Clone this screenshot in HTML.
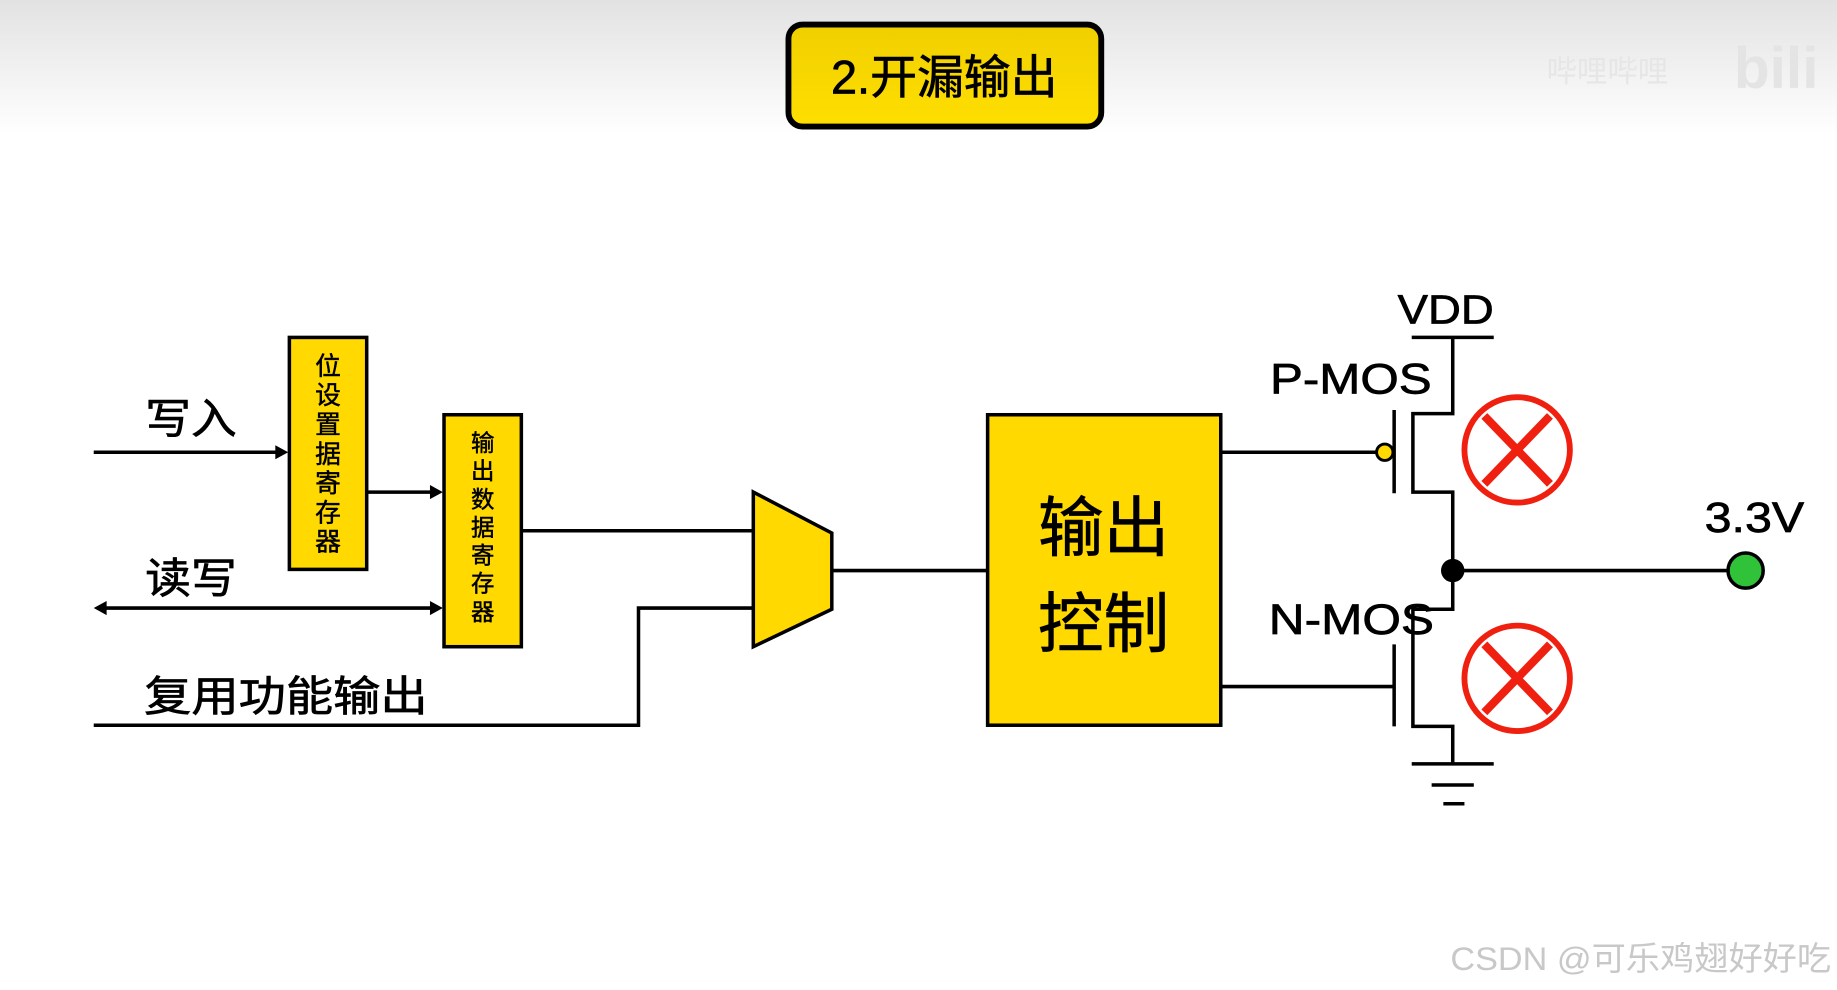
<!DOCTYPE html>
<html><head><meta charset="utf-8"><style>
html,body{margin:0;padding:0;background:#fff;overflow:hidden}
svg{display:block}
text{font-family:"Liberation Sans","Noto Sans CJK SC",sans-serif}
</style></head><body>
<svg width="1837" height="990" viewBox="0 0 1568 845" preserveAspectRatio="none" xmlns="http://www.w3.org/2000/svg">
<defs>
<linearGradient id="bg" x1="0" y1="0" x2="0" y2="1">
<stop offset="0" stop-color="#e2e2e2"/><stop offset="1" stop-color="#ffffff"/></linearGradient>
<linearGradient id="ty" x1="0" y1="0" x2="0" y2="1">
<stop offset="0" stop-color="#f0cf00"/><stop offset="1" stop-color="#ffdf00"/></linearGradient>
</defs>
<rect x="0" y="0" width="1568" height="115" fill="url(#bg)"/>
<text x="1480" y="75" font-size="50" font-weight="bold" fill="#e4e4e4">bili</text>
<text x="1320" y="70" font-size="26" fill="#e6e6e6">哔哩哔哩</text>
<rect x="673" y="21" width="267" height="87" rx="12" fill="url(#ty)" stroke="#000" stroke-width="5"/>
<text x="806" y="80" font-size="40" text-anchor="middle" fill="#000" stroke="#000" stroke-width="0.6">2.开漏输出</text>

<g stroke="#000" stroke-width="3" fill="none">
<line x1="80" y1="386" x2="238" y2="386"/>
<line x1="313" y1="420" x2="371" y2="420"/>
<line x1="88" y1="519" x2="371" y2="519"/>
<line x1="445" y1="453" x2="643" y2="453"/>
<polyline points="80,619 545,619 545,519 643,519"/>
<line x1="710" y1="487" x2="842" y2="487"/>
<line x1="1042" y1="386" x2="1175" y2="386"/>
<line x1="1042" y1="586" x2="1190" y2="586"/>
<line x1="1190" y1="350" x2="1190" y2="421"/>
<line x1="1190" y1="550" x2="1190" y2="620"/>
<polyline points="1240,287 1240,353 1206,353 1206,420 1240,420 1240,520 1206,520 1206,620 1240,620 1240,652"/>
<line x1="1205" y1="288" x2="1275" y2="288"/>
<line x1="1205" y1="652" x2="1275" y2="652"/>
<line x1="1222" y1="670" x2="1258" y2="670"/>
<line x1="1232" y1="686" x2="1250" y2="686"/>
<line x1="1240" y1="487" x2="1478" y2="487"/>
</g>
<g fill="#000">
<polygon points="246,386 235,380 235,392"/>
<polygon points="378,420 367,414 367,426"/>
<polygon points="378,519 367,513 367,525"/>
<polygon points="80,519 91,513 91,525"/>
</g>
<rect x="247" y="288" width="66" height="198" fill="#ffd900" stroke="#000" stroke-width="3"/>
<rect x="379" y="354" width="66" height="198" fill="#ffd900" stroke="#000" stroke-width="3"/>
<polygon points="643,420 710,455 710,520 643,552" fill="#ffd900" stroke="#000" stroke-width="3"/>
<rect x="843" y="354" width="199" height="265" fill="#ffd900" stroke="#000" stroke-width="3"/>

<g font-size="22" text-anchor="middle" fill="#000" stroke="#000" stroke-width="0.4">
<text x="280" y="320">位</text><text x="280" y="345">设</text><text x="280" y="370">置</text><text x="280" y="395">据</text><text x="280" y="420">寄</text><text x="280" y="445">存</text><text x="280" y="470">器</text>
</g>
<g font-size="20" text-anchor="middle" fill="#000" stroke="#000" stroke-width="0.4">
<text x="412" y="385">输</text><text x="412" y="409">出</text><text x="412" y="433">数</text><text x="412" y="457">据</text><text x="412" y="481">寄</text><text x="412" y="505">存</text><text x="412" y="529">器</text>
</g>
<g font-size="56" text-anchor="middle" fill="#000" stroke="#000" stroke-width="0.6">
<text x="942" y="470">输出</text><text x="942" y="552">控制</text>
</g>
<g font-size="36" fill="#000" stroke="#000" stroke-width="0.6">
<text x="124" y="370" textLength="78" lengthAdjust="spacingAndGlyphs">写入</text>
<text x="124" y="506" textLength="78" lengthAdjust="spacingAndGlyphs">读写</text>
<text x="123" y="607" textLength="242" lengthAdjust="spacingAndGlyphs">复用功能输出</text>
<text x="1193" y="276" font-size="35" textLength="82" lengthAdjust="spacingAndGlyphs">VDD</text>
<text x="1084" y="336" textLength="138" lengthAdjust="spacingAndGlyphs">P-MOS</text>
<text x="1083" y="541" textLength="141" lengthAdjust="spacingAndGlyphs">N-MOS</text>
<text x="1455" y="454" textLength="85" lengthAdjust="spacingAndGlyphs">3.3V</text>
</g>
<circle cx="1182" cy="386" r="7" fill="#ffd900" stroke="#000" stroke-width="2.5"/>
<circle cx="1240" cy="487" r="10" fill="#000"/>
<circle cx="1490" cy="487" r="15" fill="#30c33a" stroke="#000" stroke-width="3"/>
<g stroke="#f02010" stroke-width="5" fill="none">
<circle cx="1295" cy="384" r="45"/>
<line x1="1267" y1="355" x2="1323" y2="413" stroke-width="7"/>
<line x1="1323" y1="355" x2="1267" y2="413" stroke-width="7"/>
<circle cx="1295" cy="579" r="45"/>
<line x1="1267" y1="550" x2="1323" y2="608" stroke-width="7"/>
<line x1="1323" y1="550" x2="1267" y2="608" stroke-width="7"/>
</g>
<text x="1238" y="828" font-size="28" fill="#c8c8c8" textLength="325" lengthAdjust="spacingAndGlyphs">CSDN @可乐鸡翅好好吃</text>
</svg>
</body></html>
